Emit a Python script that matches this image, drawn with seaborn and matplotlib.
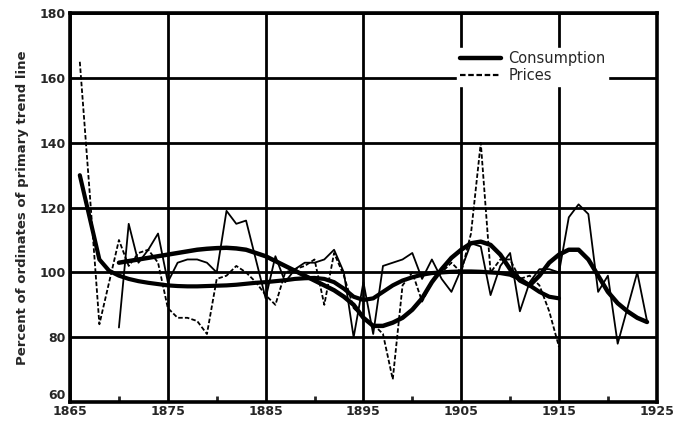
import matplotlib

matplotlib.use("Agg")
import matplotlib.pyplot as plt
import numpy as np
import pandas as pd
import seaborn as sns

# Annual values (percent of ordinates of primary trend line)
CONSUMPTION_YEARS = np.arange(1870, 1925)
CONSUMPTION = [
    83, 115, 103, 107, 112, 97, 103, 104, 104, 103,
    100, 119, 115, 116, 104, 92, 105, 97, 101, 103,
    103, 104, 107, 100, 80, 97, 81, 102, 103, 104,
    106, 98, 104, 98, 94, 101, 109, 108, 93, 102,
    106, 88, 97, 101, 101, 100, 117, 121, 118, 94,
    99, 78, 89, 100, 85,
]
CONSUMPTION_TREND = [
    103, 103.5, 104, 104.5, 105, 105.5, 106, 106.5, 107, 107.3,
    107.5, 107.6, 107.4, 107, 106, 105, 103.5, 102, 100.5, 99,
    97.5, 96, 94.5, 92.5, 90, 86, 83.5, 83.5, 84.5, 86,
    88.5, 92, 97, 101, 104.5, 107, 109, 109.5, 108.5, 105.5,
    101, 97.5, 96, 99, 103, 105.5, 107, 107, 104, 99,
    94, 90.5, 88, 86, 84.7,
]

PRICE_YEARS = np.arange(1866, 1916)
PRICES = [
    165, 125, 84, 97, 110, 102, 106, 107, 103, 89,
    86, 86, 85, 81, 98, 99, 102, 100, 97, 93,
    90, 100, 101, 102, 104, 90, 106, 99, 89, 86,
    84, 81, 67, 96, 100, 91, 97, 100, 103, 100,
    112, 140, 100, 104, 104, 98, 99, 96, 88, 77,
]
PRICE_TREND = [
    130, 117, 104, 100.5, 99, 98, 97.3, 96.8, 96.4, 96,
    95.8, 95.7, 95.7, 95.8, 95.9, 96, 96.2, 96.5, 96.8, 97,
    97.3, 97.6, 98, 98.2, 98.3, 98, 97, 95, 92.5, 91.5,
    92, 94, 96, 97.5, 98.5, 99.3, 99.8, 100, 100.2, 100.3,
    100.3, 100.2, 100, 99.8, 99.3, 98, 96, 94, 92.5, 92,
]

X_TICKS = [1865, 1875, 1885, 1895, 1905, 1915, 1925]
Y_TICKS = [60, 80, 100, 120, 140, 160, 180]

sns.set_style("white")
plt.rcParams["font.family"] = ["DejaVu Sans"]
plt.rcParams["font.weight"] = "bold"

consumption = pd.DataFrame(
    {"Year": CONSUMPTION_YEARS, "Actual": CONSUMPTION, "Trend": CONSUMPTION_TREND}
)
prices = pd.DataFrame({"Year": PRICE_YEARS, "Actual": PRICES, "Trend": PRICE_TREND})

fig = plt.figure(figsize=(6.76, 4.25), dpi=100)
ax = fig.add_axes([0.1036, 0.054, 0.868, 0.915])

ax.set_xlim(1865, 1925)
ax.set_ylim(60, 180)
ax.set_xticks(X_TICKS)
ax.set_yticks(Y_TICKS)
ax.set_xticks(np.arange(1870, 1925, 10), minor=True)
ax.grid(True, which="major", color="black", linewidth=2.0)
ax.set_axisbelow(True)
for spine in ax.spines.values():
    spine.set_linewidth(2.6)
    spine.set_color("black")

sns.lineplot(data=prices, x="Year", y="Trend", color="black", linewidth=3.0,
             ax=ax, legend=False)
sns.lineplot(data=consumption, x="Year", y="Trend", color="black", linewidth=3.2,
             ax=ax, legend=False)
sns.lineplot(data=consumption, x="Year", y="Actual", color="black", linewidth=1.3,
             ax=ax, label="Consumption")
sns.lineplot(data=prices, x="Year", y="Actual", color="black", linewidth=1.3,
             dashes=False, ax=ax, label="Prices")
ax.get_lines()[-1].set_dashes((2.5, 1.2))

handles = [
    plt.Line2D([], [], color="black", linewidth=3.2),
    plt.Line2D([], [], color="black", linewidth=1.6, dashes=(2.5, 1.2)),
]
legend = ax.legend(
    handles, ["Consumption", "Prices"],
    loc="upper right", bbox_to_anchor=(0.93, 0.93),
    frameon=True, fancybox=False, framealpha=1.0, edgecolor="white",
    fontsize=10.5, handlelength=2.8, borderpad=0.2, labelspacing=0.15,
    handletextpad=0.5,
)
for text in legend.get_texts():
    text.set_fontweight("normal")

ax.tick_params(axis="both", which="major", length=0, labelsize=9, pad=3)
ax.tick_params(axis="x", which="major", pad=2)
ax.tick_params(axis="x", which="minor", direction="in", length=4, width=2,
               bottom=True, top=False)
# the bottom "60" sits just above the corner, as in the original
ax.get_yticklabels()[0].set_verticalalignment("bottom")
ax.set_xlabel("")
ax.set_ylabel("Percent of ordinates of primary trend line", fontsize=9.5,
              fontweight="bold", labelpad=8)

fig.savefig("out.png", dpi=100)
